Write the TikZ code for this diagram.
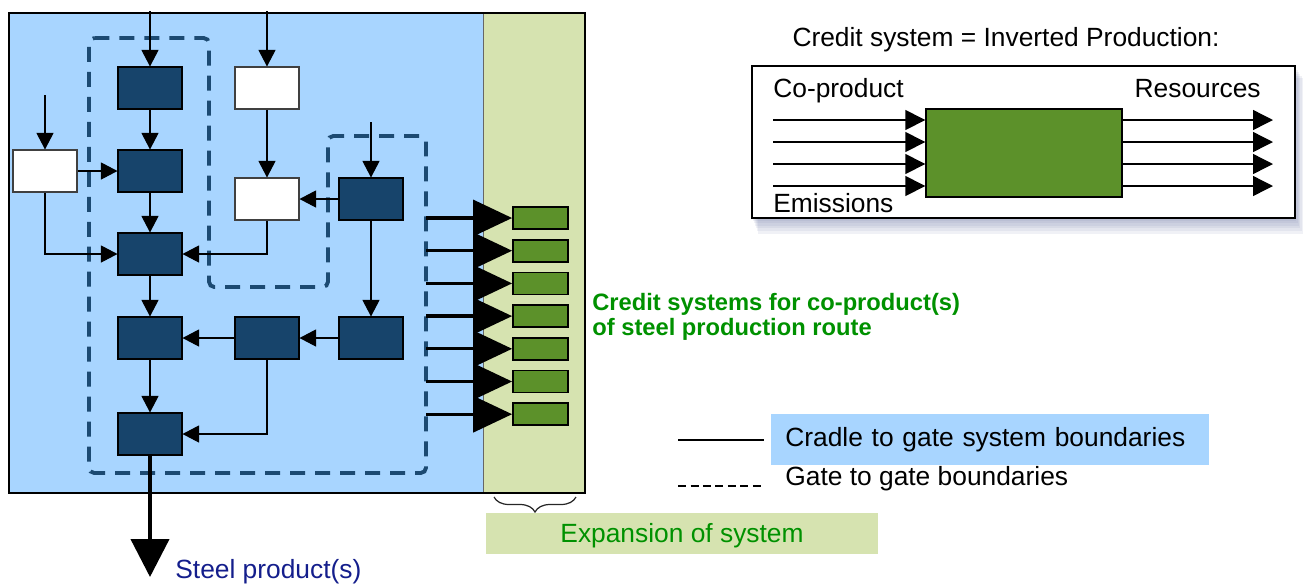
\documentclass[tikz,border=0pt]{standalone}
\usepackage{fontspec}
\setmainfont{Liberation Sans}
\usetikzlibrary{arrows.meta,decorations.pathreplacing,calc}
\definecolor{cradleblue}{RGB}{168,213,255}
\definecolor{expgreen}{RGB}{214,227,176}
\definecolor{unitblue}{RGB}{23,68,107}
\definecolor{gateblue}{RGB}{28,74,114}
\definecolor{credgreen}{RGB}{92,145,42}
\definecolor{textgreen}{RGB}{0,145,0}
\definecolor{steeltext}{RGB}{20,30,140}
\definecolor{shadowgray}{RGB}{110,120,165}

\begin{document}
\begin{tikzpicture}[x=0.02cm, y=-0.02cm,
  font=\fontsize{15}{18}\selectfont,
  txt/.style={inner sep=0pt},
  unit/.style={draw=black, fill=unitblue, minimum width=1.28cm, minimum height=0.84cm, inner sep=0pt, line width=0.6pt},
  outside/.style={unit, fill=white, draw=black!75},
  credit/.style={draw=black, fill=credgreen, line width=1pt, minimum width=1.1cm, minimum height=0.44cm, inner sep=0pt},
  flow/.style={line width=0.6pt, -{Triangle[length=0.33cm, width=0.34cm]}},
  creditflow/.style={line width=1.9pt, -{Triangle[length=0.78cm, width=0.72cm]}},
  steelflow/.style={line width=2.4pt, -{Triangle[length=0.76cm, width=0.76cm]}},
  inflow/.style={line width=0.8pt, -{Triangle[length=0.4cm, width=0.4cm]}},
  gate/.style={draw=gateblue, line width=2.2pt, dash pattern=on 0.3cm off 0.2cm, rounded corners=3pt}]
\useasboundingbox (0,0) rectangle (1303,583);

% Cradle to gate system
\fill[cradleblue] (9,13) rectangle (483,493);
\filldraw[fill=expgreen, draw=black!60, line width=0.5pt] (483,13) rectangle (585,493);
\draw[line width=1.4pt] (9,13) rectangle (585,493);

% Gate to gate boundary
\draw[gate] (89,38) -- (209,38) -- (209,287) -- (328,287) -- (328,136)
  -- (426,136) -- (426,473) -- (89,473) -- cycle;

% Process units
\node[unit] (a1) at (150,88) {};
\node[unit] (a2) at (150,171) {};
\node[unit] (a3) at (150,254) {};
\node[unit] (a4) at (150,338) {};
\node[unit] (a5) at (150,434) {};
\node[outside] (w) at (45,171) {};
\node[outside] (b1) at (267,88) {};
\node[outside] (b2) at (267,199) {};
\node[unit] (m) at (267,338) {};
\node[unit] (c1) at (371,199) {};
\node[unit] (c2) at (371,338) {};

% Inputs
\coordinate (ina1) at (150,11);
\coordinate (inb1) at (267,11);
\coordinate (inw) at (45,95);
\coordinate (inc1) at (371,122);
\draw[flow] (ina1) -- (a1);
\draw[flow] (inb1) -- (b1);
\draw[flow] (inw) -- (w);
\draw[flow] (inc1) -- (c1);

% Flows
\draw[flow] (a1) -- (a2);
\draw[flow] (a2) -- (a3);
\draw[flow] (a3) -- (a4);
\draw[flow] (a4) -- (a5);
\draw[flow] (w) -- (a2);
\draw[flow] (w.south) |- (a3.west);
\draw[flow] (b1) -- (b2);
\draw[flow] (b2.south) |- (a3.east);
\draw[flow] (c1) -- (b2);
\draw[flow] (c1) -- (c2);
\draw[flow] (c2) -- (m);
\draw[flow] (m) -- (a4);
\draw[flow] (m.south) |- (a5.east);

% Steel product
\coordinate (steel) at (150,577);
\draw[steelflow] (a5) -- (steel);
\node[txt, anchor=base west, text=steeltext] (steellbl) at (175,578) {Steel product(s)};

% Credit systems
\foreach \i in {0,...,6}{
  \node[credit] (cr\i) at (540.5,218+32.7*\i) {};
  \coordinate (co\i) at (426,218+32.7*\i);
  \draw[creditflow] (co\i) -- (cr\i);
}
\node[txt, anchor=west, align=left, text=textgreen, font=\fontsize{13.5}{14.2}\selectfont\bfseries]
  (creditlbl) at (592,317) {Credit systems for co-product(s)\\of steel production route};

% Expansion of system
\draw[decorate, decoration={brace, mirror, amplitude=0.3cm}, line width=0.7pt, black!85] (494,497) -- (576,497);
\node[fill=expgreen, minimum width=7.84cm, minimum height=0.82cm, text depth=0pt, text=textgreen] (expansion) at (682,533) {Expansion of system};

% Inverted production
\node[txt, anchor=base] (title) at (1006,46) {Credit system = Inverted Production:};
\foreach \s in {1,...,6}
  \fill[shadowgray, opacity=0.1] (752+\s,66+2*\s) rectangle (1295+1.3*\s,218+2.6*\s);
\filldraw[fill=white, draw=black, line width=1pt] (752,66) rectangle (1295,218);
\node[draw=black, fill=credgreen, line width=0.8pt, minimum width=3.92cm, minimum height=1.76cm] (proc) at (1024,153) {};
\foreach \k/\dy in {1/-33,2/-11,3/11,4/33}{
  \coordinate (cp\k) at (773,153+\dy);
  \coordinate (rs\k) at (1273,153+\dy);
  \draw[inflow] (cp\k) -- (proc.west |- cp\k);
  \draw[inflow] (proc.east |- rs\k) -- (rs\k);
}
\node[txt, anchor=base west] (coprod) at (773,97) {Co-product};
\node[txt, anchor=base west] (emis) at (773,212) {Emissions};
\node[txt, anchor=base east] (res) at (1261,97) {Resources};

% Legend
\draw[line width=0.8pt] (678,440) -- (764,440);
\node[fill=cradleblue, anchor=north west, text width=8.2cm, inner xsep=0.28cm, minimum height=1.02cm, align=left]
  (cradle) at (771,414) {Cradle to gate system boundaries};
\draw[line width=0.8pt, dash pattern=on 0.16cm off 0.09cm] (678,486) -- (764,486);
\node[txt, anchor=base west] (gatelbl) at (785,485) {Gate to gate boundaries};
\end{tikzpicture}
\end{document}
